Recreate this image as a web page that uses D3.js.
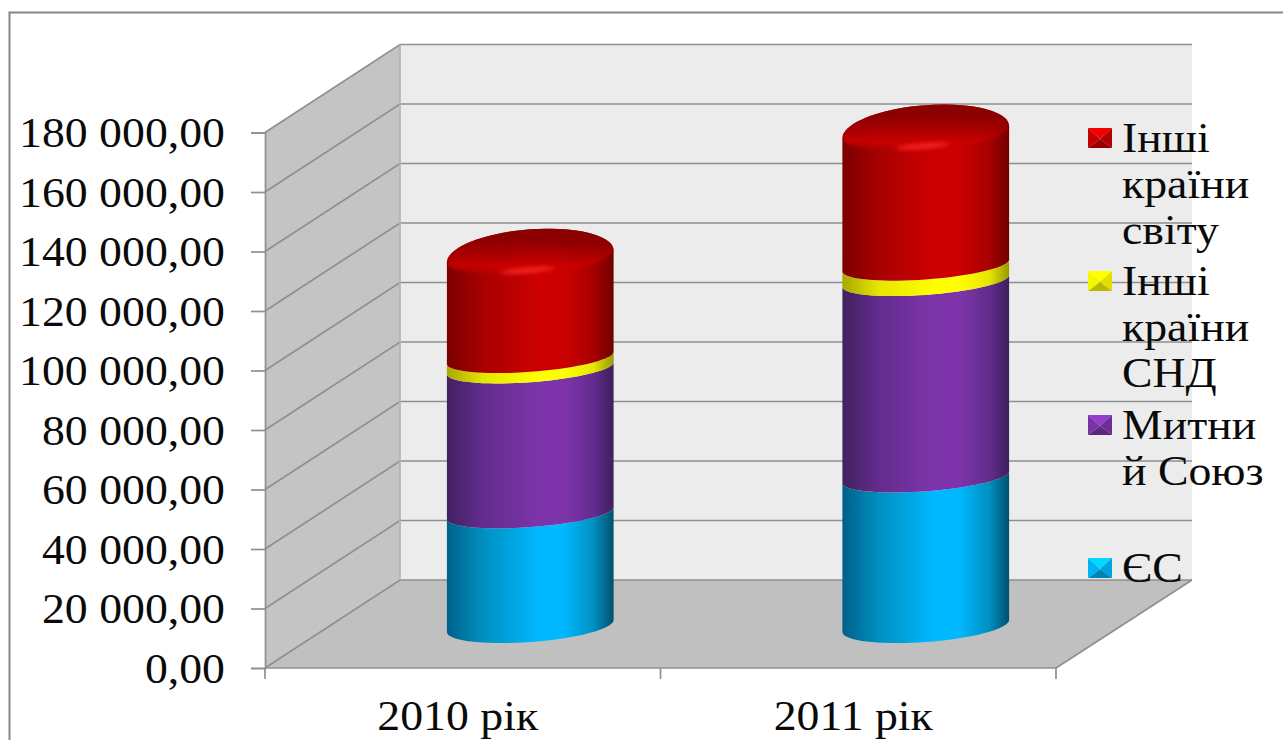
<!DOCTYPE html>
<html lang="uk">
<head>
<meta charset="utf-8">
<title>Стовпчикова діаграма 2010–2011</title>
<script src="https://cdn.jsdelivr.net/npm/d3@7"></script>
<style>
  html, body { margin: 0; padding: 0; background: #fff; overflow: hidden; }
  text { font-family: "Liberation Serif", "Times New Roman", serif; fill: #0a0a0a; }
</style>
</head>
<body>
<svg id="chart" width="1283" height="740"></svg>
<script>
// Values in the chart's own units, stacked from the bottom up.
const years = ["2010 рік", "2011 рік"];
const seriesNames = ["ЄС", "Митний Союз", "Інші країни СНД", "Інші країни світу"];
const euValues = [37950, 50000];
const customsUnionValues = [48700, 66000];
const otherCisValues = [3500, 5200];
const otherWorldValues = [34100, 44800];
const yTicks = [0, 20000, 40000, 60000, 80000, 100000, 120000, 140000, 160000, 180000];

// Legend entries, top to bottom, with the line breaks the narrow legend box forces.
const legendLines = [
  ["Інші", "країни", "світу"],
  ["Інші", "країни", "СНД"],
  ["Митни", "й Союз"],
  ["ЄС"]
];
const legendSeries = [3, 2, 1, 0];

const seriesColors = [
  { edgeL: "#00608a", mid: "#0090c0", peak: "#00b8ff", edgeR: "#00506e" },
  { edgeL: "#42215f", mid: "#632c8e", peak: "#7d34aa", edgeR: "#3e1f5c" },
  { edgeL: "#a8a800", mid: "#e6e600", peak: "#ffff00", edgeR: "#999900" },
  { edgeL: "#7c0000", mid: "#a80000", peak: "#cc0000", edgeR: "#6e0000" }
];

const svg = d3.select("#chart");
const defs = svg.append("defs");

// Oblique projection of the chart box.
const front = { left: 265, right: 1056, bottom: 668, top: 132.5 };
const depth = { dx: 135, dy: -88 };
const barDepthShift = { dx: 67.5, dy: -42 };
const fontSize = 42;
const textStretch = 1.09;
const wallStroke = "#8f8f8f";

const y = d3.scaleLinear().domain([0, 180000]).range([front.bottom, front.top]);
const x = d3.scaleBand().domain(years).range([front.left, front.right]);
const barWidth = x.bandwidth() * 0.4215;

// White sheet with the chart-area border; its right and bottom sides run off the page.
svg.append("rect").attr("x", 9.5).attr("y", 12.5).attr("width", 1300).attr("height", 740)
  .attr("fill", "#fff").attr("stroke", "#868686").attr("stroke-width", 2);

// Back wall, side wall and floor.
const poly = pts => pts.map(p => p.join(",")).join(" ");
const backLeft = front.left + depth.dx;
const backRight = front.right + depth.dx + 1;
svg.append("polygon").attr("fill", "#ececec").attr("points", poly([
  [backLeft, y(180000) + depth.dy], [backRight, y(180000) + depth.dy],
  [backRight, y(0) + depth.dy], [backLeft, y(0) + depth.dy]]));
svg.append("polygon").attr("fill", "#c4c4c4").attr("points", poly([
  [front.left, y(180000)], [backLeft, y(180000) + depth.dy],
  [backLeft, y(0) + depth.dy], [front.left, y(0)]]));
svg.append("polygon").attr("fill", "#c0c0c0").attr("points", poly([
  [front.left, y(0)], [backLeft, y(0) + depth.dy],
  [backRight, y(0) + depth.dy], [front.right, y(0)]]));

// Gridlines run along the side wall and across the back wall.
const grid = svg.append("g").attr("fill", "none").attr("stroke", wallStroke).attr("stroke-width", 1.7);
grid.selectAll("polyline").data(yTicks).join("polyline")
  .attr("points", d => poly([
    [front.left, y(d)], [backLeft, y(d) + depth.dy], [backRight, y(d) + depth.dy]]));
grid.append("line").attr("x1", backLeft).attr("x2", backLeft)
  .attr("y1", y(180000) + depth.dy).attr("y2", y(0) + depth.dy).attr("stroke", "#b4b4b4");
grid.append("polyline").attr("points", poly([
  [backRight, y(0) + depth.dy], [front.right, y(0)]]));

// Axes.
const numberLocale = d3.formatLocale({ decimal: ",", thousands: " ", grouping: [3], currency: ["", ""] });
const yAxis = d3.axisLeft(y).tickValues(yTicks).tickSize(14).tickPadding(0)
  .tickFormat(numberLocale.format(",.2f"));
const yG = svg.append("g").attr("transform", `translate(${front.left},0)`).call(yAxis);
const xTickPositions = [front.left, (front.left + front.right) / 2, front.right];
const xAxisLine = svg.append("g").attr("stroke", wallStroke).attr("stroke-width", 1.7);
xAxisLine.selectAll("line").data(xTickPositions).join("line")
  .attr("x1", d => d).attr("x2", d => d).attr("y1", y(0)).attr("y2", y(0) + 11);
xAxisLine.append("line").attr("x1", front.left).attr("x2", front.right).attr("y1", y(0)).attr("y2", y(0));

yG.select(".domain").attr("stroke", wallStroke).attr("stroke-width", 1.7);
yG.selectAll(".tick line").attr("stroke", wallStroke).attr("stroke-width", 1.7);
yG.selectAll(".tick text")
  .attr("x", null).attr("dy", null).attr("y", null)
  .attr("text-anchor", "end")
  .attr("font-size", fontSize)
  .attr("transform", `translate(-40,14) scale(${textStretch},1)`);

svg.append("g").selectAll("text").data(years).join("text")
  .attr("text-anchor", "middle")
  .attr("font-size", fontSize)
  .attr("transform", d => `translate(${x(d) + x.bandwidth() / 2 - 5},730) scale(${textStretch},1)`)
  .text(d => d);

// Horizontal shading that gives each stack segment its rounded look.
seriesColors.forEach((c, i) => {
  const g = defs.append("linearGradient").attr("id", `shade${i}`)
    .attr("x1", 0).attr("x2", 1).attr("y1", 0).attr("y2", 0);
  [[0, c.edgeL], [0.22, c.mid], [0.55, c.peak], [0.7, c.peak], [0.88, c.mid], [1, c.edgeR]]
    .forEach(([o, col]) => g.append("stop").attr("offset", o).attr("stop-color", col));
});

// Top-cap shading: dark towards the back, brightening into the front rim.
const capGrad = defs.append("linearGradient").attr("id", "capShade")
  .attr("x1", 0.5).attr("y1", 0).attr("x2", 0.47).attr("y2", 1);
[[0, "#8a0000", 1], [0.3, "#8c0000", 1], [0.55, "#a60000", 0.85], [0.82, "#cc0000", 0.9], [1, "#cc0000", 0]]
  .forEach(([o, col, a]) => capGrad.append("stop").attr("offset", o).attr("stop-color", col).attr("stop-opacity", a));
defs.append("filter").attr("id", "capBlur").attr("x", "-10%").attr("y", "-30%").attr("width", "120%").attr("height", "160%")
  .append("feGaussianBlur").attr("stdDeviation", 1.5);
defs.append("filter").attr("id", "glowBlur").attr("x", "-50%").attr("y", "-200%").attr("width", "200%").attr("height", "500%")
  .append("feGaussianBlur").attr("stdDeviation", 2.2);

// Ellipse of a bar cross-section: the sheared circle of the oblique view.
const halfWidth = barWidth / 2;
const skew = 6;
const floorB = 16;
const seamB = 14;
const backB = 27;
const capFrontB = 15;
const arc = (cx, cy, b, t0, t1) => d3.range(0, 37).map(k => {
  const t = t0 + (t1 - t0) * k / 36;
  return [cx + halfWidth * Math.cos(t), cy - skew * Math.cos(t) + b * Math.sin(t)];
});
const pathOf = d3.line().curve(d3.curveLinear);

const stacks = years.map((year, i) => {
  const values = [euValues[i], customsUnionValues[i], otherCisValues[i], otherWorldValues[i]];
  let running = 0;
  return values.map(v => { const s = { y0: running, y1: running + v }; running += v; return s; });
});

const bars = svg.append("g");
stacks.forEach((stack, i) => {
  const cx = x(years[i]) + x.bandwidth() / 2 + barDepthShift.dx;
  const yAt = v => y(v) + barDepthShift.dy;
  const g = bars.append("g");
  stack.forEach((seg, s) => {
    const lower = arc(cx, yAt(seg.y0), s === 0 ? floorB : seamB, Math.PI, 0);
    const isTop = s === stack.length - 1;
    const upper = isTop ? arc(cx, yAt(seg.y1), backB, 0, -Math.PI) : arc(cx, yAt(seg.y1), seamB, 0, Math.PI);
    g.append("path").attr("d", pathOf(lower.concat(upper)) + "Z").attr("fill", `url(#shade${s})`);
  });

  // Bevelled top of the stack, clipped to the cylinder outline.
  const topY = yAt(stack[stack.length - 1].y1);
  const clipId = `capClip${i}`;
  defs.append("clipPath").attr("id", clipId).append("path")
    .attr("d", pathOf(arc(cx, topY + 40, backB, Math.PI, 0).concat(arc(cx, topY, backB, 0, -Math.PI))) + "Z");
  const cap = g.append("g").attr("clip-path", `url(#${clipId})`);
  const capOutline = arc(cx, topY, backB + 3, 0, -Math.PI).concat(arc(cx, topY, capFrontB + 3, Math.PI, 0));
  cap.append("path").attr("d", pathOf(capOutline) + "Z")
    .attr("fill", "url(#capShade)").attr("filter", "url(#capBlur)");
  cap.append("ellipse")
    .attr("cx", 0).attr("cy", 0).attr("rx", 27).attr("ry", 2.6)
    .attr("transform", `translate(${cx - 3},${topY + 14}) rotate(-5)`)
    .attr("fill", "#ff2a2a").attr("opacity", 0.9).attr("filter", "url(#glowBlur)");
});

// Legend with bevelled square keys.
const legendX = 1122;
const legendKeyX = 1088;
const legendKeyW = 24;
const legendKeyH = 20;
const firstBaselines = [152, 295, 439, 582];
const lineStep = 46;
const legend = svg.append("g");
legendLines.forEach((lines, i) => {
  const base = firstBaselines[i];
  const c = d3.color(seriesColors[legendSeries[i]].peak);
  const kx = legendKeyX, ky = base - 24, kw = legendKeyW, kh = legendKeyH;
  const mid = [kx + kw / 2, ky + kh * 0.55];
  const tl = [kx, ky], tr = [kx + kw, ky], br = [kx + kw, ky + kh], bl = [kx, ky + kh];
  [[tl, tr, c.brighter(0.45)], [tr, br, c.darker(0.35)], [br, bl, c.darker(0.9)], [bl, tl, c.darker(0.1)]].forEach(([a, b, col]) => {
    legend.append("polygon").attr("points", poly([a, b, mid])).attr("fill", col);
  });
  legend.selectAll(null).data(lines).join("text")
    .attr("font-size", fontSize)
    .attr("transform", (d, k) => `translate(${legendX},${base + k * lineStep}) scale(${textStretch},1)`)
    .text(d => d);
});
</script>
</body>
</html>
